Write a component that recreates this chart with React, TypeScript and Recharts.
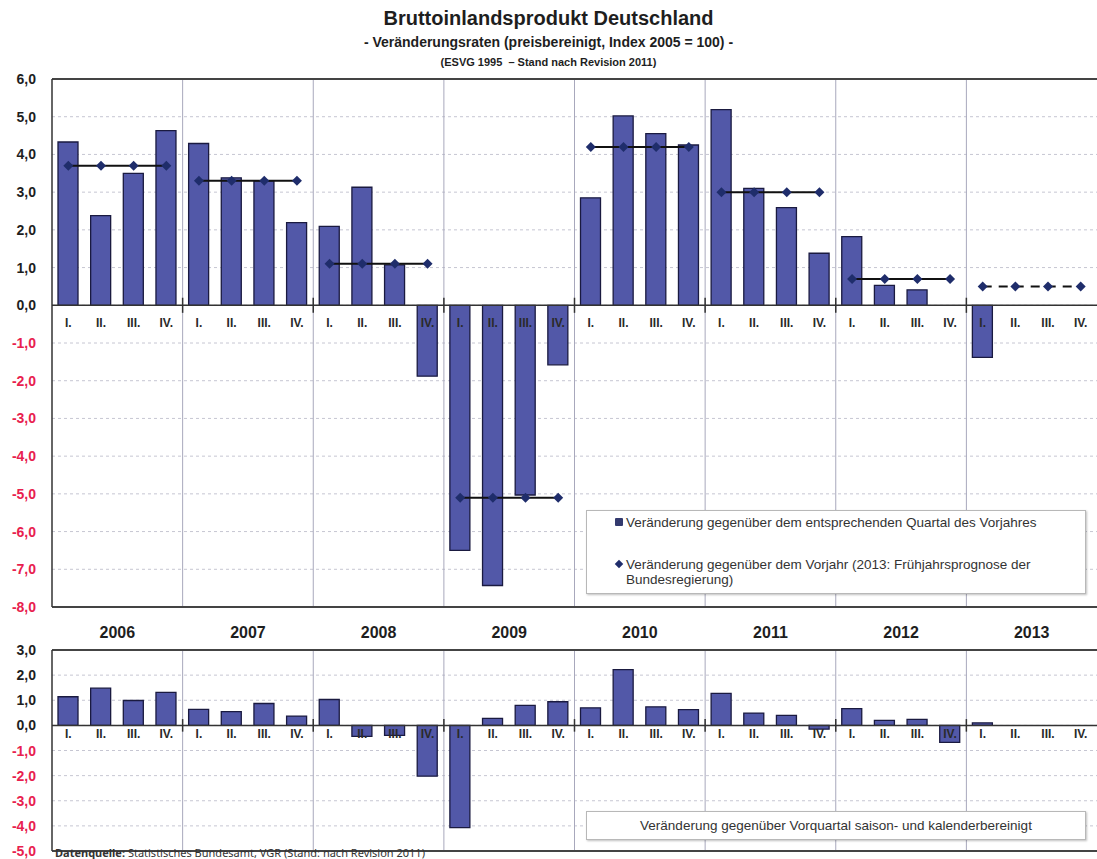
import React from "react";
import {
  ComposedChart,
  Bar,
  Line,
  XAxis,
  YAxis,
  CartesianGrid,
  ReferenceLine,
  ReferenceDot,
} from "recharts";

const years = [2006, 2007, 2008, 2009, 2010, 2011, 2012, 2013];
const quarters = ["I.", "II.", "III.", "IV."];

// Veränderung gegenüber dem entsprechenden Quartal des Vorjahres
const yoyQuarter = [
  4.33, 2.38, 3.5, 4.63, 4.29, 3.38, 3.3, 2.19, 2.09, 3.13, 1.07, -1.88,
  -6.5, -7.43, -5.03, -1.58, 2.85, 5.02, 4.55, 4.25, 5.19, 3.1, 2.59, 1.38,
  1.82, 0.53, 0.41, null, -1.38, null, null, null,
];

// Veränderung gegenüber dem Vorjahr (2013: Prognose)
const annual = [3.7, 3.3, 1.1, -5.1, 4.2, 3.0, 0.7, 0.5];

// Veränderung gegenüber Vorquartal
const qoq = [
  1.14, 1.48, 0.99, 1.31, 0.64, 0.55, 0.87, 0.37, 1.03, -0.44, -0.4, -2.02,
  -4.07, 0.28, 0.8, 0.94, 0.7, 2.22, 0.74, 0.63, 1.27, 0.49, 0.4, -0.15,
  0.67, 0.2, 0.24, -0.68, 0.1, null, null, null,
];

const topTicks = [6, 5, 4, 3, 2, 1, 0, -1, -2, -3, -4, -5, -6, -7, -8];
const bottomTicks = [3, 2, 1, 0, -1, -2, -3, -4, -5];

const FONT = "'Liberation Sans', Arial, sans-serif";
const RED = "#e8204e";
const DARK = "#1e1e1e";
const BAR_FILL = "#5258a8";
const BAR_STROKE = "#1a1a40";
const NAVY = "#1f2d6b";

const rows = years.flatMap((yr, yi) =>
  quarters.map((q, qi) => {
    const i = yi * 4 + qi;
    const row: any = { x: i + 0.5, quarter: q, yoy: yoyQuarter[i], qoq: qoq[i] };
    row["a" + yr] = annual[yi];
    return row;
  })
);

const boundaries = [4, 8, 12, 16, 20, 24, 28];
const yearCenters = years.map((_, i) => i * 4 + 2);

const YTick = (props: any) => {
  const { x, y, payload } = props;
  const v = payload.value as number;
  return (
    <text
      x={x}
      y={y}
      dy={5}
      textAnchor="end"
      fontFamily={FONT}
      fontWeight="bold"
      fontSize={14}
      fill={v < 0 ? RED : DARK}
    >
      {v.toFixed(1).replace(".", ",")}
    </text>
  );
};

const YearTick = (props: any) => {
  const { x, y, payload } = props;
  const idx = Math.round((payload.value - 2) / 4);
  return (
    <text
      x={x}
      y={y - 18}
      dominantBaseline="central"
      textAnchor="middle"
      fontFamily={FONT}
      fontWeight="bold"
      fontSize={16}
      fill={DARK}
    >
      {years[idx]}
    </text>
  );
};

const QLabel = (props: any) => {
  const vb = props.viewBox;
  if (!vb) return null;
  const cx = vb.x + (vb.width || 0) / 2;
  const cy = vb.y + (vb.height || 0) / 2;
  return (
    <text
      x={cx}
      y={cy + props.dy}
      textAnchor="middle"
      dominantBaseline="central"
      fontFamily={FONT}
      fontWeight="bold"
      fontSize={12}
      fill="#2a2a2a"
    >
      {props.q}
    </text>
  );
};

const Diamond = (props: any) => {
  const { cx, cy } = props;
  if (cx == null || cy == null || isNaN(cx) || isNaN(cy)) return <g />;
  const s = 5;
  return (
    <polygon
      points={`${cx},${cy - s} ${cx + s},${cy} ${cx},${cy + s} ${cx - s},${cy}`}
      fill={NAVY}
    />
  );
};

const boxStyle: React.CSSProperties = {
  position: "absolute",
  background: "#fff",
  border: "1px solid #b8b8b8",
  boxShadow: "1px 1px 2px rgba(0,0,0,0.25)",
  fontFamily: FONT,
  fontSize: 13.5,
  color: "#333",
  boxSizing: "border-box",
};

export default function App() {
  return (
    <div
      style={{
        position: "absolute",
        left: 0,
        top: 0,
        width: 1097,
        height: 859,
        background: "#fff",
        overflow: "hidden",
        fontFamily: FONT,
      }}
    >
      <div style={{ position: "absolute", top: 7, width: 1097, textAlign: "center", fontWeight: "bold", fontSize: 20, color: DARK }}>
        Bruttoinlandsprodukt Deutschland
      </div>
      <div style={{ position: "absolute", top: 34, width: 1097, textAlign: "center", fontWeight: "bold", fontSize: 14, color: DARK }}>
        - Veränderungsraten (preisbereinigt, Index 2005 = 100) -
      </div>
      <div style={{ position: "absolute", top: 56, width: 1097, textAlign: "center", fontWeight: "bold", fontSize: 11, color: DARK }}>
        (ESVG 1995 &nbsp;– Stand nach Revision 2011)
      </div>

      <div style={{ position: "absolute", left: 0, top: 0 }}>
        <ComposedChart width={1097} height={620} data={rows} margin={{ top: 79, right: 0, bottom: 13, left: 0 }}>
          <CartesianGrid vertical={false} stroke="#c6c6d2" strokeDasharray="3 3" />
          <XAxis type="number" dataKey="x" domain={[0, 32]} hide allowDataOverflow />
          <YAxis
            type="number"
            domain={[-8, 6]}
            ticks={topTicks}
            interval={0}
            width={52}
            axisLine={{ stroke: "#333", strokeWidth: 1.5 }}
            tickLine={false}
            tickSize={0}
            tickMargin={16}
            tick={<YTick />}
            allowDataOverflow
          />
          {boundaries.map((b) => (
            <ReferenceLine key={"v" + b} x={b} stroke="#a8a8bc" />
          ))}
          {boundaries.map((b) => (
            <ReferenceLine key={"t" + b} segment={[{ x: b, y: -0.2 }, { x: b, y: 0.2 }]} stroke="#333" strokeWidth={1.5} />
          ))}
          <ReferenceLine y={6} stroke="#444" strokeWidth={2} />
          <ReferenceLine y={-8} stroke="#444" strokeWidth={2} />
          <ReferenceLine y={0} stroke="#333" strokeWidth={1.5} />
          <Bar dataKey="yoy" barSize={20} fill={BAR_FILL} stroke={BAR_STROKE} strokeWidth={1.3} isAnimationActive={false} />
          {years.map((yr) => (
            <Line
              key={yr}
              dataKey={"a" + yr}
              stroke="#111"
              strokeWidth={2}
              strokeDasharray={yr === 2013 ? "9 7" : undefined}
              dot={<Diamond />}
              activeDot={false}
              connectNulls={false}
              isAnimationActive={false}
            />
          ))}
          {rows.map((r) => (
            <ReferenceDot
              key={"q" + r.x}
              x={r.x}
              y={0}
              r={0}
              fill="none"
              stroke="none"
              label={<QLabel dy={18} q={r.quarter} />}
            />
          ))}
        </ComposedChart>
      </div>

      <div style={{ ...boxStyle, left: 586, top: 510, width: 500, height: 84 }}>
        <div style={{ position: "absolute", left: 28, top: 4, whiteSpace: "nowrap" }}>
          <span style={{ display: "inline-block", width: 8, height: 8, background: "#333a6e", borderRadius: 1, marginRight: 3, verticalAlign: "1px" }} />
          Veränderung gegenüber dem entsprechenden Quartal des Vorjahres
        </div>
        <div style={{ position: "absolute", left: 28, top: 46, lineHeight: "15px", whiteSpace: "nowrap" }}>
          <span style={{ display: "inline-block", width: 6, height: 6, background: NAVY, transform: "rotate(45deg)", marginRight: 4, marginLeft: 1, verticalAlign: "2px" }} />
          Veränderung gegenüber dem Vorjahr (2013: Frühjahrsprognose der
          <br />
          <span style={{ marginLeft: 11 }}>Bundesregierung)</span>
        </div>
      </div>

      <div style={{ position: "absolute", left: 0, top: 620 }}>
        <ComposedChart width={1097} height={239} data={rows} margin={{ top: 0, right: 0, bottom: 8, left: 0 }}>
          <CartesianGrid vertical={false} stroke="#c6c6d2" strokeDasharray="3 3" />
          <XAxis
            type="number"
            dataKey="x"
            domain={[0, 32]}
            orientation="top"
            ticks={yearCenters}
            interval={0}
            height={30}
            axisLine={false}
            tickLine={false}
            tickSize={0}
            tickMargin={0}
            tick={<YearTick />}
            allowDataOverflow
          />
          <YAxis
            type="number"
            domain={[-5, 3]}
            ticks={bottomTicks}
            interval={0}
            width={52}
            axisLine={{ stroke: "#333", strokeWidth: 1.5 }}
            tickLine={false}
            tickSize={0}
            tickMargin={16}
            tick={<YTick />}
            allowDataOverflow
          />
          {boundaries.map((b) => (
            <ReferenceLine key={"v" + b} x={b} stroke="#a8a8bc" />
          ))}
          {boundaries.map((b) => (
            <ReferenceLine key={"t" + b} segment={[{ x: b, y: -0.25 }, { x: b, y: 0.25 }]} stroke="#333" strokeWidth={1.5} />
          ))}
          <ReferenceLine y={3} stroke="#444" strokeWidth={2} />
          <ReferenceLine y={-5} stroke="#444" strokeWidth={2} />
          <ReferenceLine y={0} stroke="#333" strokeWidth={1.5} />
          <Bar dataKey="qoq" barSize={20} fill={BAR_FILL} stroke={BAR_STROKE} strokeWidth={1.3} isAnimationActive={false} />
          {rows.map((r) => (
            <ReferenceDot
              key={"q" + r.x}
              x={r.x}
              y={0}
              r={0}
              fill="none"
              stroke="none"
              label={<QLabel dy={9} q={r.quarter} />}
            />
          ))}
        </ComposedChart>
      </div>

      <div style={{ ...boxStyle, left: 586, top: 811, width: 500, height: 29, textAlign: "center", lineHeight: "27px" }}>
        Veränderung gegenüber Vorquartal saison- und kalenderbereinigt
      </div>

      <div style={{ position: "absolute", left: 55, top: 846, fontFamily: "'Noto Sans', sans-serif", fontSize: 11, lineHeight: "13px", color: "#333", whiteSpace: "nowrap" }}>
        <b>Datenquelle:</b> Statistisches Bundesamt, VGR (Stand: nach Revision 2011)
      </div>
    </div>
  );
}
